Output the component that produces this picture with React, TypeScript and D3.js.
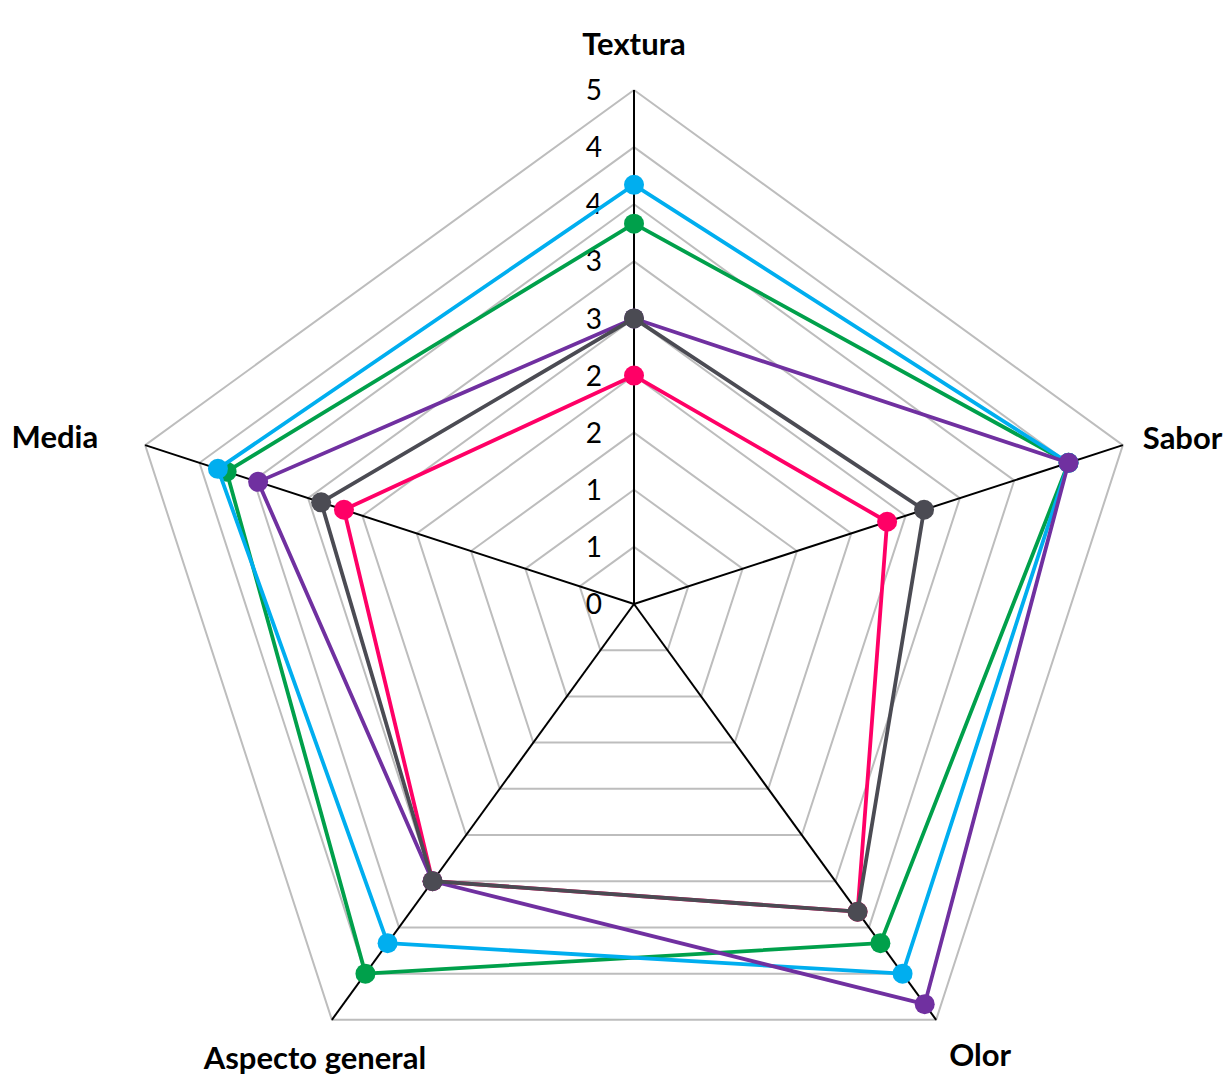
import React from "react";
import * as d3 from "d3";

const categories = ["Textura", "Sabor", "Olor", "Aspecto general", "Media"];
const seriesNames = ["Rosa", "Verde", "Azul", "Morado", "Gris"];
const seriesColors = ["#FF0066", "#00A04B", "#00AEEF", "#7030A0", "#4B4B53"];
const valuesRosa = [2.0, 2.33, 3.33, 3.0, 2.67];
const valuesVerde = [3.33, 4.0, 3.67, 4.0, 3.75];
const valuesAzul = [3.67, 4.0, 4.0, 3.67, 3.83];
const valuesMorado = [2.5, 4.0, 4.33, 3.0, 3.46];
const valuesGris = [2.5, 2.67, 3.33, 3.0, 2.88];
const seriesValues = [valuesRosa, valuesVerde, valuesAzul, valuesMorado, valuesGris];
const tickValues = [0, 0.5, 1, 1.5, 2, 2.5, 3, 3.5, 4, 4.5];
const tickLabels = ["0", "1", "1", "2", "2", "3", "3", "4", "4", "5"];
const maxValue = 4.5;

export default function App() {
  const W = 1224;
  const H = 1080;
  const cx = 634;
  const cy = 604;
  const R = 514;
  const r = d3.scaleLinear().domain([0, maxValue]).range([0, R]);
  const angle = d3
    .scalePoint<string>()
    .domain(categories)
    .range([0, 2 * Math.PI * (categories.length - 1) / categories.length]);
  const pt = (cat: string, v: number): [number, number] => {
    const a = angle(cat)!;
    return [cx + r(v) * Math.sin(a), cy - r(v) * Math.cos(a)];
  };
  const ringPath = (v: number) =>
    d3.line()(categories.map((c) => pt(c, v)).concat([pt(categories[0], v)]))!;

  // label placement relative to outer vertex
  const labelOffsets: [number, number, string][] = [
    [0, -46, "middle"],
    [20, -7, "start"],
    [44, 35, "middle"],
    [-17, 38, "middle"],
    [-47, -8, "end"],
  ];

  const font = "Lato, 'Open Sans', sans-serif";

  return (
    <svg
      width={W}
      height={H}
      style={{ position: "absolute", left: 0, top: 0, display: "block", background: "#fff" }}
    >
      {tickValues.slice(1).map((v) => (
        <path key={"g" + v} d={ringPath(v)} fill="none" stroke="#BDBDBD" strokeWidth={2} />
      ))}
      {categories.map((c) => {
        const [x, y] = pt(c, maxValue);
        return <line key={"a" + c} x1={cx} y1={cy} x2={x} y2={y} stroke="#000" strokeWidth={2} />;
      })}
      {tickValues.map((v, i) => (
        <text
          key={"t" + v}
          x={cx - 32}
          y={cy - r(v)}
          dy="0.36em"
          textAnchor="end"
          fontFamily={font}
          fontSize={28}
          fill="#000"
        >
          {tickLabels[i]}
        </text>
      ))}
      {seriesValues.map((vals, si) => {
        const pts = categories.map((c, i) => pt(c, vals[i]));
        const d = d3.line()(pts.concat([pts[0]]))!;
        return (
          <g key={seriesNames[si]}>
            <path d={d} fill="none" stroke={seriesColors[si]} strokeWidth={3.8} strokeLinejoin="round" />
            {pts.map(([x, y], i) => (
              <circle key={i} cx={x} cy={y} r={10} fill={seriesColors[si]} />
            ))}
          </g>
        );
      })}
      {categories.map((c, i) => {
        const [x, y] = pt(c, maxValue);
        const [dx, dy, anchor] = labelOffsets[i];
        return (
          <text
            key={"l" + c}
            x={x + dx}
            y={y + dy}
            dy="0.36em"
            textAnchor={anchor as any}
            fontFamily={font}
            fontWeight={700}
            fontSize={31}
            fill="#000"
          >
            {c}
          </text>
        );
      })}
    </svg>
  );
}
